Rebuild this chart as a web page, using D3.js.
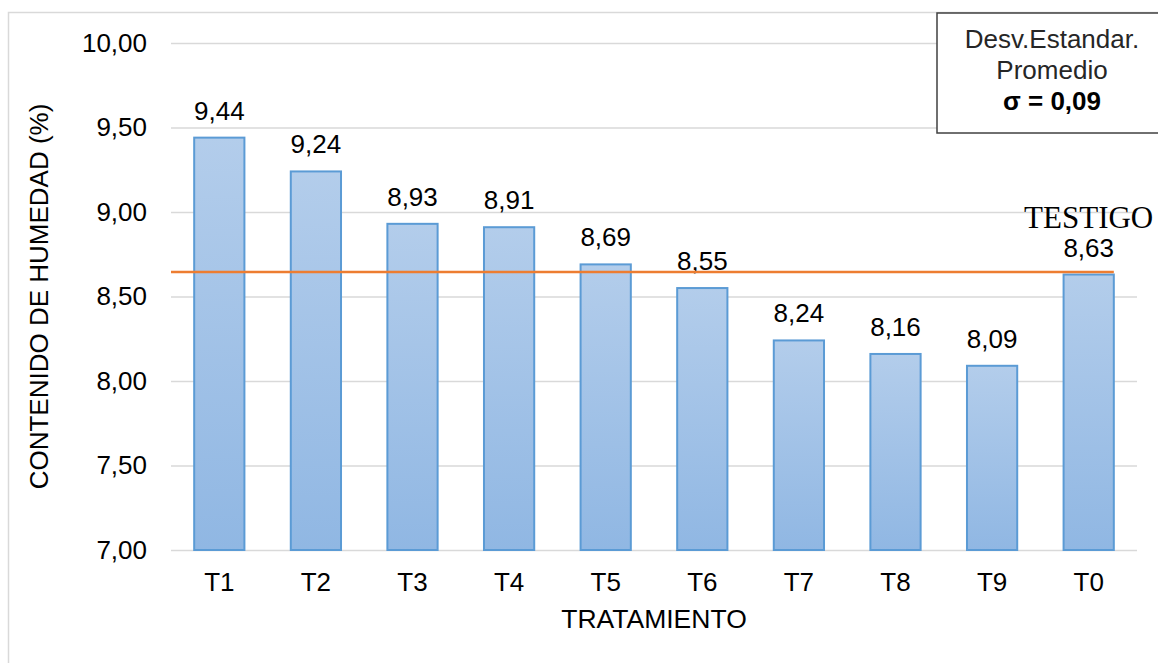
<!DOCTYPE html>
<html>
<head>
<meta charset="utf-8">
<script src="https://cdn.jsdelivr.net/npm/d3@7"></script>
<style>
  html, body { margin: 0; padding: 0; background: #fff; }
  svg { display: block; }
  text { fill: #000; }
</style>
</head>
<body>
<svg id="chart" width="1158" height="663"></svg>
<script>
// Contenido de humedad por tratamiento
const categories = ["T1", "T2", "T3", "T4", "T5", "T6", "T7", "T8", "T9", "T0"];
const values = [9.44, 9.24, 8.93, 8.91, 8.69, 8.55, 8.24, 8.16, 8.09, 8.63];
const valueLabels = ["9,44", "9,24", "8,93", "8,91", "8,69", "8,55", "8,24", "8,16", "8,09", "8,63"];
const yTicks = [7.0, 7.5, 8.0, 8.5, 9.0, 9.5, 10.0];
const referenceLevel = [8.645];
const legendLines = ["Desv.Estandar.", "Promedio", "σ = 0,09"];

const SANS = "'Liberation Sans', Arial, sans-serif";
const SERIF = "'Liberation Serif', 'Times New Roman', serif";

const svg = d3.select("#chart");
const W = 1158, H = 663;
const plot = { left: 171, right: 1137, top: 43, bottom: 550 };

// outer chart frame
svg.append("rect")
  .attr("x", 8.5).attr("y", 12.5)
  .attr("width", W + 20).attr("height", H + 20)
  .attr("fill", "#fff").attr("stroke", "#d9d9d9").attr("stroke-width", 1.5);

const x = d3.scaleBand().domain(categories).range([plot.left, plot.right]).paddingInner(0.48).paddingOuter(0.24);
const y = d3.scaleLinear().domain([7, 10]).range([plot.bottom, plot.top]);

// gradient for bars
const defs = svg.append("defs");
const grad = defs.append("linearGradient").attr("id", "barFill")
  .attr("x1", 0).attr("y1", 0).attr("x2", 0).attr("y2", 1);
grad.append("stop").attr("offset", "0%").attr("stop-color", "#b3cdeb");
grad.append("stop").attr("offset", "100%").attr("stop-color", "#90b7e3");

// gridlines and y tick labels
const yAxis = d3.axisLeft(y).tickValues(yTicks)
  .tickSize(-(plot.right - plot.left)).tickPadding(24)
  .tickFormat(d => d3.format(".2f")(d).replace(".", ","));
const gy = svg.append("g").attr("transform", `translate(${plot.left},0)`).call(yAxis);
gy.select(".domain").remove();
gy.selectAll(".tick line").attr("stroke", "#d9d9d9").attr("stroke-width", 1.5);
gy.selectAll(".tick text").style("font-size", "26px").style("fill", "#000").style("font-family", SANS);

// bars
svg.append("g").selectAll("rect").data(values).join("rect")
  .attr("x", (d, i) => x(categories[i]))
  .attr("y", d => y(d))
  .attr("width", x.bandwidth())
  .attr("height", d => y(7) - y(d))
  .attr("fill", "url(#barFill)")
  .attr("stroke", "#5b9bd5").attr("stroke-width", 2);

// value labels
svg.append("g").selectAll("text").data(values).join("text")
  .attr("x", (d, i) => x(categories[i]) + x.bandwidth() / 2)
  .attr("y", d => y(d) - 18)
  .attr("text-anchor", "middle")
  .style("font-family", SANS).style("font-size", "26px")
  .text((d, i) => valueLabels[i]);

// x axis labels
const xAxis = d3.axisBottom(x).tickSize(0).tickPadding(23);
const gx = svg.append("g").attr("transform", `translate(0,${plot.bottom})`).call(xAxis);
gx.select(".domain").remove();
gx.selectAll(".tick text").style("font-size", "26px").style("fill", "#000").style("font-family", SANS);

// reference line (testigo)
const lastCat = categories[categories.length - 1];
svg.append("g").selectAll("line").data(referenceLevel).join("line")
  .attr("x1", plot.left).attr("x2", x(lastCat) + x.bandwidth())
  .attr("y1", d => y(d)).attr("y2", d => y(d))
  .attr("stroke", "#ed7d31").attr("stroke-width", 2.5);

svg.append("text")
  .attr("x", x(lastCat) + x.bandwidth() / 2)
  .attr("y", 228)
  .attr("text-anchor", "middle")
  .style("font-family", SERIF)
  .style("font-size", "31px")
  .text("TESTIGO");

// axis titles
svg.append("text")
  .attr("x", (plot.left + plot.right) / 2).attr("y", 628)
  .attr("text-anchor", "middle")
  .style("font-family", SANS).style("font-size", "26.5px")
  .text("TRATAMIENTO");

svg.append("text")
  .attr("transform", `translate(48,${(plot.top + plot.bottom) / 2}) rotate(-90)`)
  .attr("text-anchor", "middle")
  .style("font-family", SANS).style("font-size", "26px")
  .text("CONTENIDO DE HUMEDAD (%)");

// statistics box
svg.append("rect")
  .attr("x", 937).attr("y", 13).attr("width", 260).attr("height", 120)
  .attr("fill", "#fff").attr("stroke", "#404040").attr("stroke-width", 1.5);
svg.append("g").selectAll("text").data(legendLines).join("text")
  .attr("x", 1052)
  .attr("y", (d, i) => 48 + i * 31)
  .attr("text-anchor", "middle")
  .style("font-family", SANS)
  .style("font-size", "26px")
  .style("font-weight", (d, i) => i === 2 ? "bold" : "normal")
  .style("fill", (d, i) => i === 2 ? "#000" : "#262626")
  .text(d => d);
</script>
</body>
</html>
